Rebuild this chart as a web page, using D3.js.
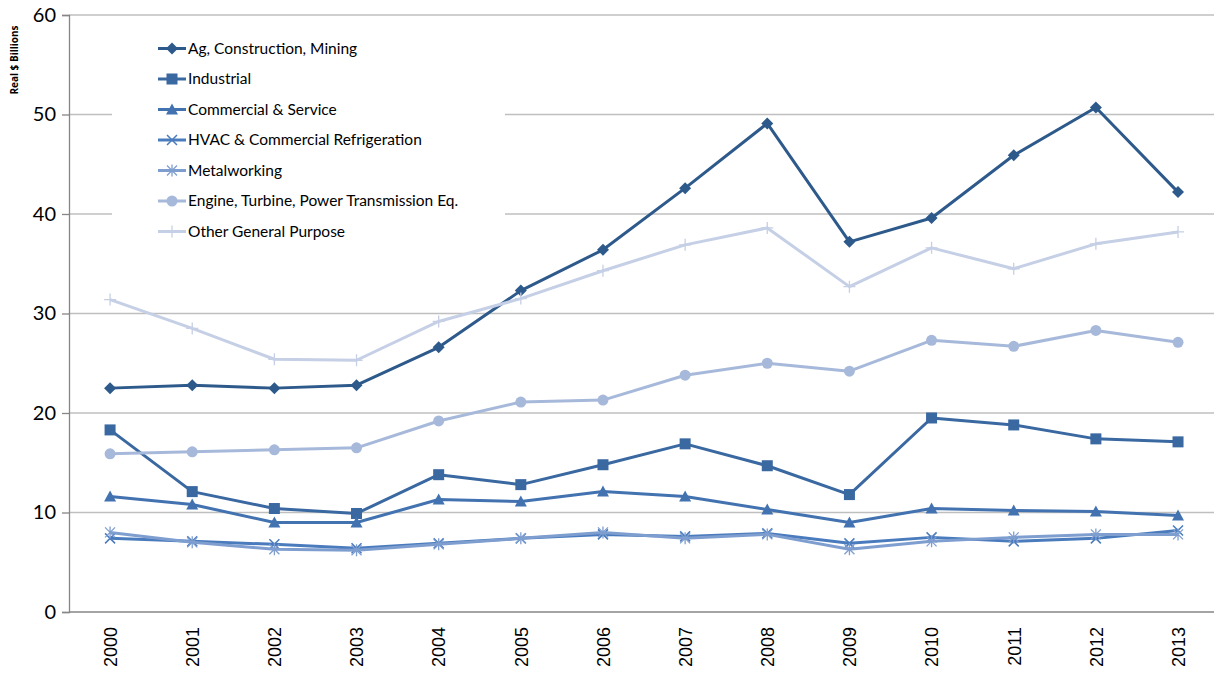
<!DOCTYPE html>
<html><head><meta charset="utf-8">
<script src="https://d3js.org/d3.v7.min.js"></script>
<style>body{margin:0;background:#fff;}svg{display:block;}</style>
</head><body>
<script>
const years = ["2000","2001","2002","2003","2004","2005","2006","2007","2008","2009","2010","2011","2012","2013"];
const seriesNames = ["Ag, Construction, Mining","Industrial","Commercial & Service","HVAC & Commercial Refrigeration","Metalworking","Engine, Turbine, Power Transmission Eq.","Other General Purpose"];
const agConstructionMining = [22.5,22.8,22.5,22.8,26.6,32.3,36.4,42.6,49.1,37.2,39.6,45.9,50.7,42.2];
const industrial = [18.3,12.1,10.4,9.9,13.8,12.8,14.8,16.9,14.7,11.8,19.5,18.8,17.4,17.1];
const commercialService = [11.6,10.8,9.0,9.0,11.3,11.1,12.1,11.6,10.3,9.0,10.4,10.2,10.1,9.7];
const hvac = [7.4,7.1,6.8,6.4,6.9,7.4,7.8,7.6,7.9,6.9,7.5,7.1,7.4,8.2];
const metalworking = [8.0,7.0,6.3,6.2,6.8,7.4,8.0,7.4,7.8,6.3,7.1,7.5,7.8,7.8];
const engineTurbine = [15.9,16.1,16.3,16.5,19.2,21.1,21.3,23.8,25.0,24.2,27.3,26.7,28.3,27.1];
const otherGeneral = [31.4,28.5,25.4,25.3,29.2,31.5,34.3,36.9,38.6,32.7,36.6,34.5,37.0,38.2];
const yTicks = [0,10,20,30,40,50,60];

const allValues = [agConstructionMining, industrial, commercialService, hvac, metalworking, engineTurbine, otherGeneral];
const colors = ["#2D5A8B","#3A68A1","#4272B0","#4A7BBD","#7F9ED0","#A7B9DA","#C5CFE5"];
const markers = ["diamond","square","triangle","x","asterisk","circle","plus"];

const W = 1214, H = 673;
const svg = d3.select("body").append("svg").attr("width", W).attr("height", H);
const pLeft = 69, pRight = 69 + 14*82.15, pTop = 15, pBottom = 612;
const x = d3.scalePoint().domain(years).range([pLeft, pRight]).padding(0.5);
const y = d3.scaleLinear().domain([0,60]).range([pBottom, pTop]);

// gridlines
svg.append("g").selectAll("line").data(yTicks.filter(d=>d>0)).join("line")
  .attr("x1", pLeft).attr("x2", W).attr("y1", d=>y(d)).attr("y2", d=>y(d))
  .attr("stroke", "#BFBFBF").attr("stroke-width", 1.3);

// y axis
const yAxis = svg.append("g").attr("transform", `translate(${pLeft},0)`)
  .call(d3.axisLeft(y).tickValues(yTicks).tickSize(7).tickPadding(6));
yAxis.select(".domain").attr("stroke", "#868686").attr("stroke-width", 1.3);
yAxis.selectAll(".tick line").attr("stroke", "#868686").attr("stroke-width", 1.3);
yAxis.selectAll("text").attr("font-family", "Lato, 'Open Sans', sans-serif").attr("font-size", 20).attr("fill", "#000");

// x axis
const xAxis = svg.append("g").attr("transform", `translate(0,${pBottom})`)
  .call(d3.axisBottom(x).tickSize(0));
xAxis.select(".domain").attr("d", `M${pLeft},0H${W}`).attr("stroke", "#868686").attr("stroke-width", 1.3);
xAxis.selectAll("text")
  .attr("font-family", "'Liberation Sans', Arial, sans-serif").attr("font-size", 18).attr("fill", "#000")
  .attr("transform", "rotate(-90)").attr("text-anchor", "end").attr("x", -15).attr("y", 0).attr("dy", "0.35em");

// y title
svg.append("text").attr("transform", "translate(18,60) rotate(-90)")
  .attr("text-anchor", "middle").attr("font-family", "'Open Sans', sans-serif").attr("font-weight", "bold")
  .attr("font-size", 10).text("Real $ Billions");

function drawMarker(g, type, cx, cy, color) {
  if (type === "diamond") {
    g.append("path").attr("d", `M${cx},${cy-6}L${cx+6},${cy}L${cx},${cy+6}L${cx-6},${cy}Z`).attr("fill", color);
  } else if (type === "square") {
    g.append("rect").attr("x", cx-5.5).attr("y", cy-5.5).attr("width", 11).attr("height", 11).attr("fill", color);
  } else if (type === "triangle") {
    g.append("path").attr("d", `M${cx},${cy-6}L${cx+6},${cy+5}L${cx-6},${cy+5}Z`).attr("fill", color);
  } else if (type === "circle") {
    g.append("circle").attr("cx", cx).attr("cy", cy).attr("r", 5.5).attr("fill", color);
  } else if (type === "x") {
    g.append("path").attr("d", `M${cx-5},${cy-5}L${cx+5},${cy+5}M${cx-5},${cy+5}L${cx+5},${cy-5}`).attr("stroke", color).attr("stroke-width", 1.5);
  } else if (type === "asterisk") {
    g.append("path").attr("d", `M${cx-5},${cy-5}L${cx+5},${cy+5}M${cx-5},${cy+5}L${cx+5},${cy-5}M${cx},${cy-6}L${cx},${cy+6}`).attr("stroke", color).attr("stroke-width", 1.3);
  } else if (type === "plus") {
    g.append("path").attr("d", `M${cx-6},${cy}L${cx+6},${cy}M${cx},${cy-6}L${cx},${cy+6}`).attr("stroke", color).attr("stroke-width", 1.3);
  }
}

const line = d3.line().x((d,i)=>x(years[i])).y(d=>y(d));
allValues.forEach((vals, si) => {
  const g = svg.append("g");
  g.append("path").attr("d", line(vals)).attr("fill", "none").attr("stroke", colors[si]).attr("stroke-width", 3).attr("stroke-linejoin", "round");
  vals.forEach((v,i) => drawMarker(g, markers[si], x(years[i]), y(v), colors[si]));
});

// legend
const lg = svg.append("g");
lg.append("rect").attr("x", 112).attr("y", 30).attr("width", 393).attr("height", 220).attr("fill", "#fff");
seriesNames.forEach((name, i) => {
  const ly = 48.5 + i*30.5;
  lg.append("line").attr("x1", 158).attr("x2", 186).attr("y1", ly).attr("y2", ly).attr("stroke", colors[i]).attr("stroke-width", 3);
  drawMarker(lg, markers[i], 172, ly, colors[i]);
  lg.append("text").attr("x", 188).attr("y", ly).attr("dy", "0.35em")
    .attr("font-family", "Lato, 'Open Sans', sans-serif").attr("font-size", 15.5).attr("fill", "#000").text(name);
});
</script>
</body></html>
